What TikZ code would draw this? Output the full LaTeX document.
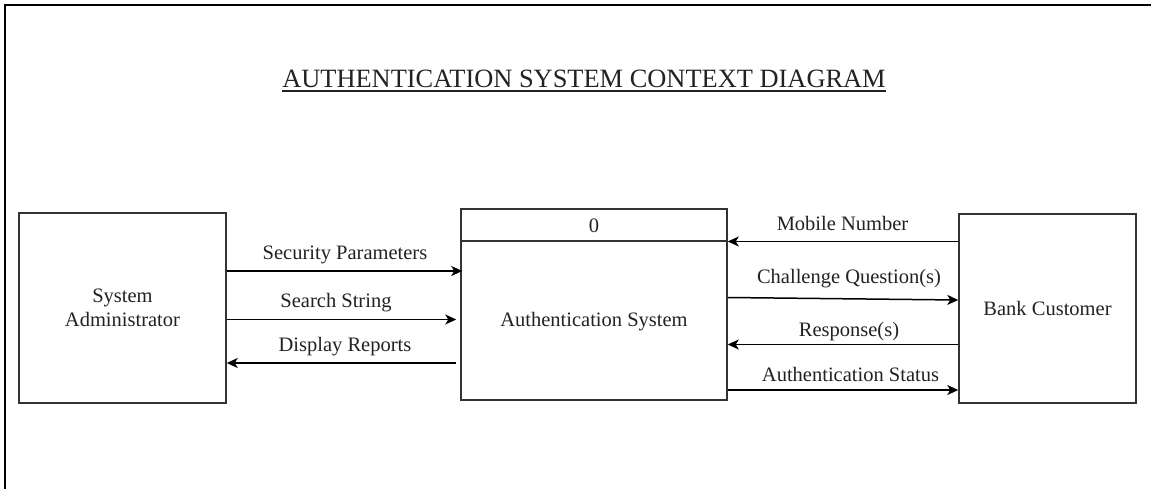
\documentclass[tikz,border=0pt]{standalone}
\usepackage{fontspec}
\setmainfont{Liberation Serif}
\usetikzlibrary{arrows.meta}
\definecolor{ink}{HTML}{222222}
\definecolor{edge}{HTML}{333333}
\tikzset{
  entity/.style={draw=edge, line width=1.5pt, inner sep=0pt, align=center,
    font=\fontsize{20.5}{23}\selectfont, text=ink},
  flowlabel/.style={font=\fontsize{20.5}{23}\selectfont, text=ink, inner sep=0pt, anchor=base},
  flow/.style={draw=black, line width=1.5pt, -{Stealth[length=11pt,width=10pt,inset=3pt]}},
}
\begin{document}
\begin{tikzpicture}[x=1pt,y=-1pt]
\useasboundingbox (0,0) rectangle (1151,489);
% page frame
\draw[line width=1.5pt, black] (5,489) -- (5,5) -- (1151,5);

% title
\node[font=\fontsize{26.4}{30}\selectfont, text=ink, inner sep=0pt, anchor=base] (title) at (584,88)
  {AUTHENTICATION SYSTEM CONTEXT DIAGRAM};
\draw[line width=1.1pt, ink] ([yshift=-3pt]title.base west) -- ([yshift=-3pt]title.base east);

% external entities and the process
\node[entity, minimum width=207pt, minimum height=190pt] (sa) at (122.5,308)
  {System\\[1.5pt]Administrator};
\node[entity, minimum width=177pt, minimum height=189pt] (bc) at (1047.5,308.5)
  {Bank Customer};
\node[entity, minimum width=266pt, minimum height=191pt] (as) at (594,304.5) {};
\draw[draw=edge, line width=1.5pt] (as.west |- 0,241) -- (as.east |- 0,241);
\node[flowlabel, anchor=center] (pid) at (594,226) {0};
\node[flowlabel, anchor=center] (pname) at (594,322) {Authentication System};

% flows between System Administrator and the process
\draw[flow] (sa.east |- 0,271) -- ([xshift=2pt]as.west |- 0,271);
\node[flowlabel] (l1) at (345,259) {Security Parameters};
\draw[flow] (sa.east |- 0,319.5) -- ([xshift=-4pt]as.west |- 0,319.5);
\node[flowlabel] (l2) at (336,307) {Search String};
\draw[flow] ([xshift=-4pt]as.west |- 0,363) -- (sa.east |- 0,363);
\node[flowlabel] (l3) at (345,351) {Display Reports};

% flows between Bank Customer and the process
\draw[flow] (bc.west |- 0,241.5) -- (as.east |- 0,241.5);
\node[flowlabel] (r1) at (842.5,230) {Mobile Number};
\draw[flow] (as.east |- 0,297.5) -- (bc.west |- 0,300);
\node[flowlabel] (r2) at (849,283) {Challenge Question(s)};
\draw[flow] (bc.west |- 0,344.5) -- (as.east |- 0,344.5);
\node[flowlabel] (r3) at (849,336) {Response(s)};
\draw[flow] (as.east |- 0,390) -- (bc.west |- 0,390);
\node[flowlabel] (r4) at (850.5,381) {Authentication Status};
\end{tikzpicture}
\end{document}
